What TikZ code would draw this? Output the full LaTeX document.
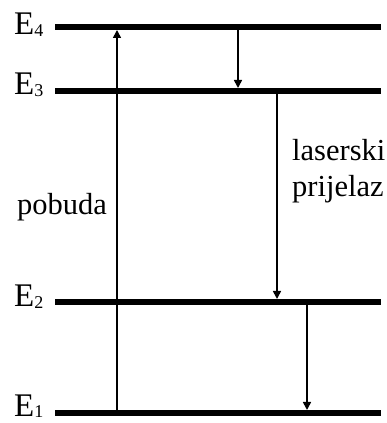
\documentclass[tikz,border=0pt]{standalone}
\usepackage{fontspec}
\setmainfont{Liberation Serif}
\usetikzlibrary{arrows.meta, positioning, calc}
\newcommand{\razina}[1]{\fontsize{33}{36}\selectfont E\raisebox{-1.5pt}{\fontsize{18}{20}\selectfont #1}}

\begin{document}
\begin{tikzpicture}[x=1pt, y=1pt, every node/.style={font=\fontsize{30.5}{36}\selectfont, inner sep=0pt}]
    	\tikzstyle{lvl}=[line width=6pt]
    	\tikzstyle{tr}=[line width=1.6pt, -{Triangle[length=8pt,width=8pt]}]
    \useasboundingbox (0,0) rectangle (387,423);
    % energijske razine
    \coordinate (l4) at (55,396);  \coordinate (r4) at (381,396);
    \coordinate (l3) at (55,332);  \coordinate (r3) at (381,332);
    \coordinate (l2) at (55,121);  \coordinate (r2) at (381,121);
    \coordinate (l1) at (55,10);   \coordinate (r1) at (381,10);
    \draw[lvl] (l4) -- (r4);
    \draw[lvl] (l3) -- (r3);
    \draw[lvl] (l2) -- (r2);
    \draw[lvl] (l1) -- (r1);
    \node[anchor=base west] (e4) at (14,388) {\razina{4}};
    \node[anchor=base west] (e3) at (14,328) {\razina{3}};
    \node[anchor=base west] (e2) at (14,116) {\razina{2}};
    \node[anchor=base west] (e1) at (14,6.5) {\razina{1}};
    % prijelazi
    \coordinate (pa) at (117,10);  \coordinate (pb) at (117,393);
    \coordinate (ra) at (238,396); \coordinate (rb) at (238,335);
    \coordinate (la) at (277,332); \coordinate (lb) at (277,124);
    \coordinate (da) at (307,121); \coordinate (db) at (307,13);
    \draw[tr] (pa) -- (pb);
    \draw[tr] (ra) -- (rb);
    \draw[tr] (la) -- (lb);
    \draw[tr] (da) -- (db);
    \node[anchor=base west] (pob) at (17,208) {pobuda};
    \node[anchor=base west, align=left] (las) at (292,226) {laserski\\prijelaz};
  \end{tikzpicture}
\end{document}
